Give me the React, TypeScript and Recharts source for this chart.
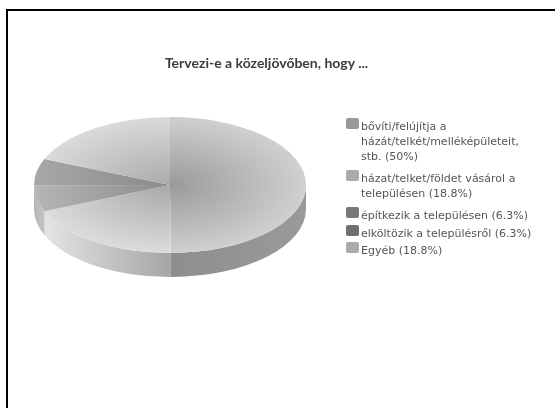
import React from "react";
import { PieChart, Pie, Cell, Legend } from "recharts";

const categories = [
  "bővíti/felújítja a házát/telkét/melléképületeit, stb.",
  "házat/telket/földet vásárol a településen",
  "építkezik a településen",
  "elköltözik a településről",
  "Egyéb",
];
const shares = [50, 18.8, 6.3, 6.3, 18.8];
const legendLines = [
  ["bővíti/felújítja a", "házát/telkét/melléképületeit,", "stb. (50%)"],
  ["házat/telket/földet vásárol a", "településen (18.8%)"],
  ["építkezik a településen (6.3%)"],
  ["elköltözik a településről (6.3%)"],
  ["Egyéb (18.8%)"],
];
const legendColors = ["#999999", "#aaaaaa", "#777777", "#6f6f6f", "#aaaaaa"];
const legendGaps = [7, 7, 3, 2, 0];
const topFills = ["url(#top0)", "url(#top1)", "url(#top2)", "url(#top3)", "url(#top4)"];
const wallFills = ["url(#wall0)", "url(#wall1)", "url(#wall2)", "#b5b5b5", "#c0c0c0"];
const title = "Tervezi-e a közeljövőben, hogy ...";

const tableData = categories.map((name, i) => ({ name, value: shares[i] }));

const SQUASH = 0.5;
const DEPTH = 24;
const rad = (d: number) => (d * Math.PI) / 180;

function TopSlice(p: any) {
  const { cx, cy, outerRadius: r, startAngle: a, endAngle: b, fill } = p;
  const x1 = cx + r * Math.cos(rad(a));
  const y1 = cy - r * SQUASH * Math.sin(rad(a));
  const x2 = cx + r * Math.cos(rad(b));
  const y2 = cy - r * SQUASH * Math.sin(rad(b));
  const large = Math.abs(a - b) > 180 ? 1 : 0;
  const d = `M${cx} ${cy}L${x1} ${y1}A${r} ${r * SQUASH} 0 ${large} 1 ${x2} ${y2}Z`;
  return <path d={d} fill={fill} stroke="none" />;
}

function WallSlice(p: any) {
  const { cx, cy, outerRadius: r, fill } = p;
  const hi = Math.max(p.startAngle, p.endAngle);
  const lo = Math.min(p.startAngle, p.endAngle);
  // Only the front half of the rim (math angles -180..0) is visible.
  const a = Math.min(hi, 0);
  const b = Math.max(lo, -180);
  if (a <= b) return <g />;
  const x1 = cx + r * Math.cos(rad(a));
  const y1 = cy - r * SQUASH * Math.sin(rad(a));
  const x2 = cx + r * Math.cos(rad(b));
  const y2 = cy - r * SQUASH * Math.sin(rad(b));
  const ry = r * SQUASH;
  const d = `M${x1} ${y1}A${r} ${ry} 0 0 1 ${x2} ${y2}L${x2} ${y2 + DEPTH}A${r} ${ry} 0 0 0 ${x1} ${y1 + DEPTH}Z`;
  return <path d={d} fill={fill} stroke="none" />;
}

function radial(id: string, inner: string, outer: string) {
  return (
    <radialGradient
      id={id}
      gradientUnits="userSpaceOnUse"
      cx={170}
      cy={185}
      r={136}
      gradientTransform="translate(0 92.5) scale(1 0.5)"
    >
      <stop offset="0%" stopColor={inner} />
      <stop offset="100%" stopColor={outer} />
    </radialGradient>
  );
}

function linear(id: string, x1: number, x2: number, from: string, to: string) {
  return (
    <linearGradient id={id} gradientUnits="userSpaceOnUse" x1={x1} x2={x2} y1={0} y2={0}>
      <stop offset="0%" stopColor={from} />
      <stop offset="100%" stopColor={to} />
    </linearGradient>
  );
}

function LegendBox() {
  return (
    <div style={{ fontFamily: "'DejaVu Sans', sans-serif", fontSize: 11, color: "#555", lineHeight: "15px" }}>
      {legendLines.map((lines, i) => (
        <div key={i} style={{ position: "relative", paddingLeft: 16, marginBottom: legendGaps[i] }}>
          <span
            style={{
              position: "absolute",
              left: 1,
              top: 1,
              width: 13,
              height: 11,
              borderRadius: 2,
              background: legendColors[i],
            }}
          />
          {lines.map((l, j) => (
            <div key={j} style={{ whiteSpace: "nowrap", position: "relative", top: 2 }}>{l}</div>
          ))}
        </div>
      ))}
    </div>
  );
}

export default function App() {
  return (
    <div
      style={{
        position: "absolute",
        left: 0,
        top: 0,
        width: 555,
        height: 408,
        overflow: "hidden",
        background: "#fff",
        filter: "blur(0.35px)",
      }}
    >
      <div
        style={{
          position: "absolute",
          left: 6,
          top: 9,
          width: 600,
          height: 500,
          borderLeft: "2px solid #000",
          borderTop: "2px solid #000",
        }}
      />
      <div style={{ position: "absolute", left: 0, top: 0 }}>
        <PieChart width={555} height={408} margin={{ top: 0, right: 0, bottom: 0, left: 0 }}>
          <defs>
            {radial("top0", "#9a9a9a", "#d0d0d0")}
            {radial("top1", "#a8a8a8", "#dcdcdc")}
            {linear("top2", 34, 170, "#b6b6b6", "#8c8c8c")}
            {linear("top3", 34, 170, "#a8a8a8", "#8a8a8a")}
            {radial("top4", "#aaaaaa", "#dadada")}
            {linear("wall0", 170, 306, "#8e8e8e", "#9a9a9a")}
            {linear("wall1", 45, 170, "#e4e4e4", "#a6a6a6")}
            {linear("wall2", 34, 45, "#b6b6b6", "#c6c6c6")}
          </defs>
          <text
            x={266.5}
            y={68}
            textAnchor="middle"
            fontFamily="Lato, sans-serif"
            fontWeight={700}
            fontSize={14}
            fill="#3c3c3c"
          >
            {title}
          </text>
          <Pie
            data={tableData}
            dataKey="value"
            nameKey="name"
            cx={170}
            cy={185}
            outerRadius={136}
            startAngle={90}
            endAngle={-270}
            stroke="none"
            legendType="none"
            isAnimationActive={false}
            shape={WallSlice}
          >
            {tableData.map((_, i) => (
              <Cell key={i} fill={wallFills[i]} />
            ))}
          </Pie>
          <Pie
            data={tableData}
            dataKey="value"
            nameKey="name"
            cx={170}
            cy={185}
            outerRadius={136}
            startAngle={90}
            endAngle={-270}
            stroke="none"
            isAnimationActive={false}
            shape={TopSlice}
          >
            {tableData.map((_, i) => (
              <Cell key={i} fill={topFills[i]} />
            ))}
          </Pie>
          <Legend
            content={<LegendBox />}
            wrapperStyle={{ position: "absolute", left: 345, top: 117, width: 205, height: "auto" }}
          />
        </PieChart>
      </div>
    </div>
  );
}
